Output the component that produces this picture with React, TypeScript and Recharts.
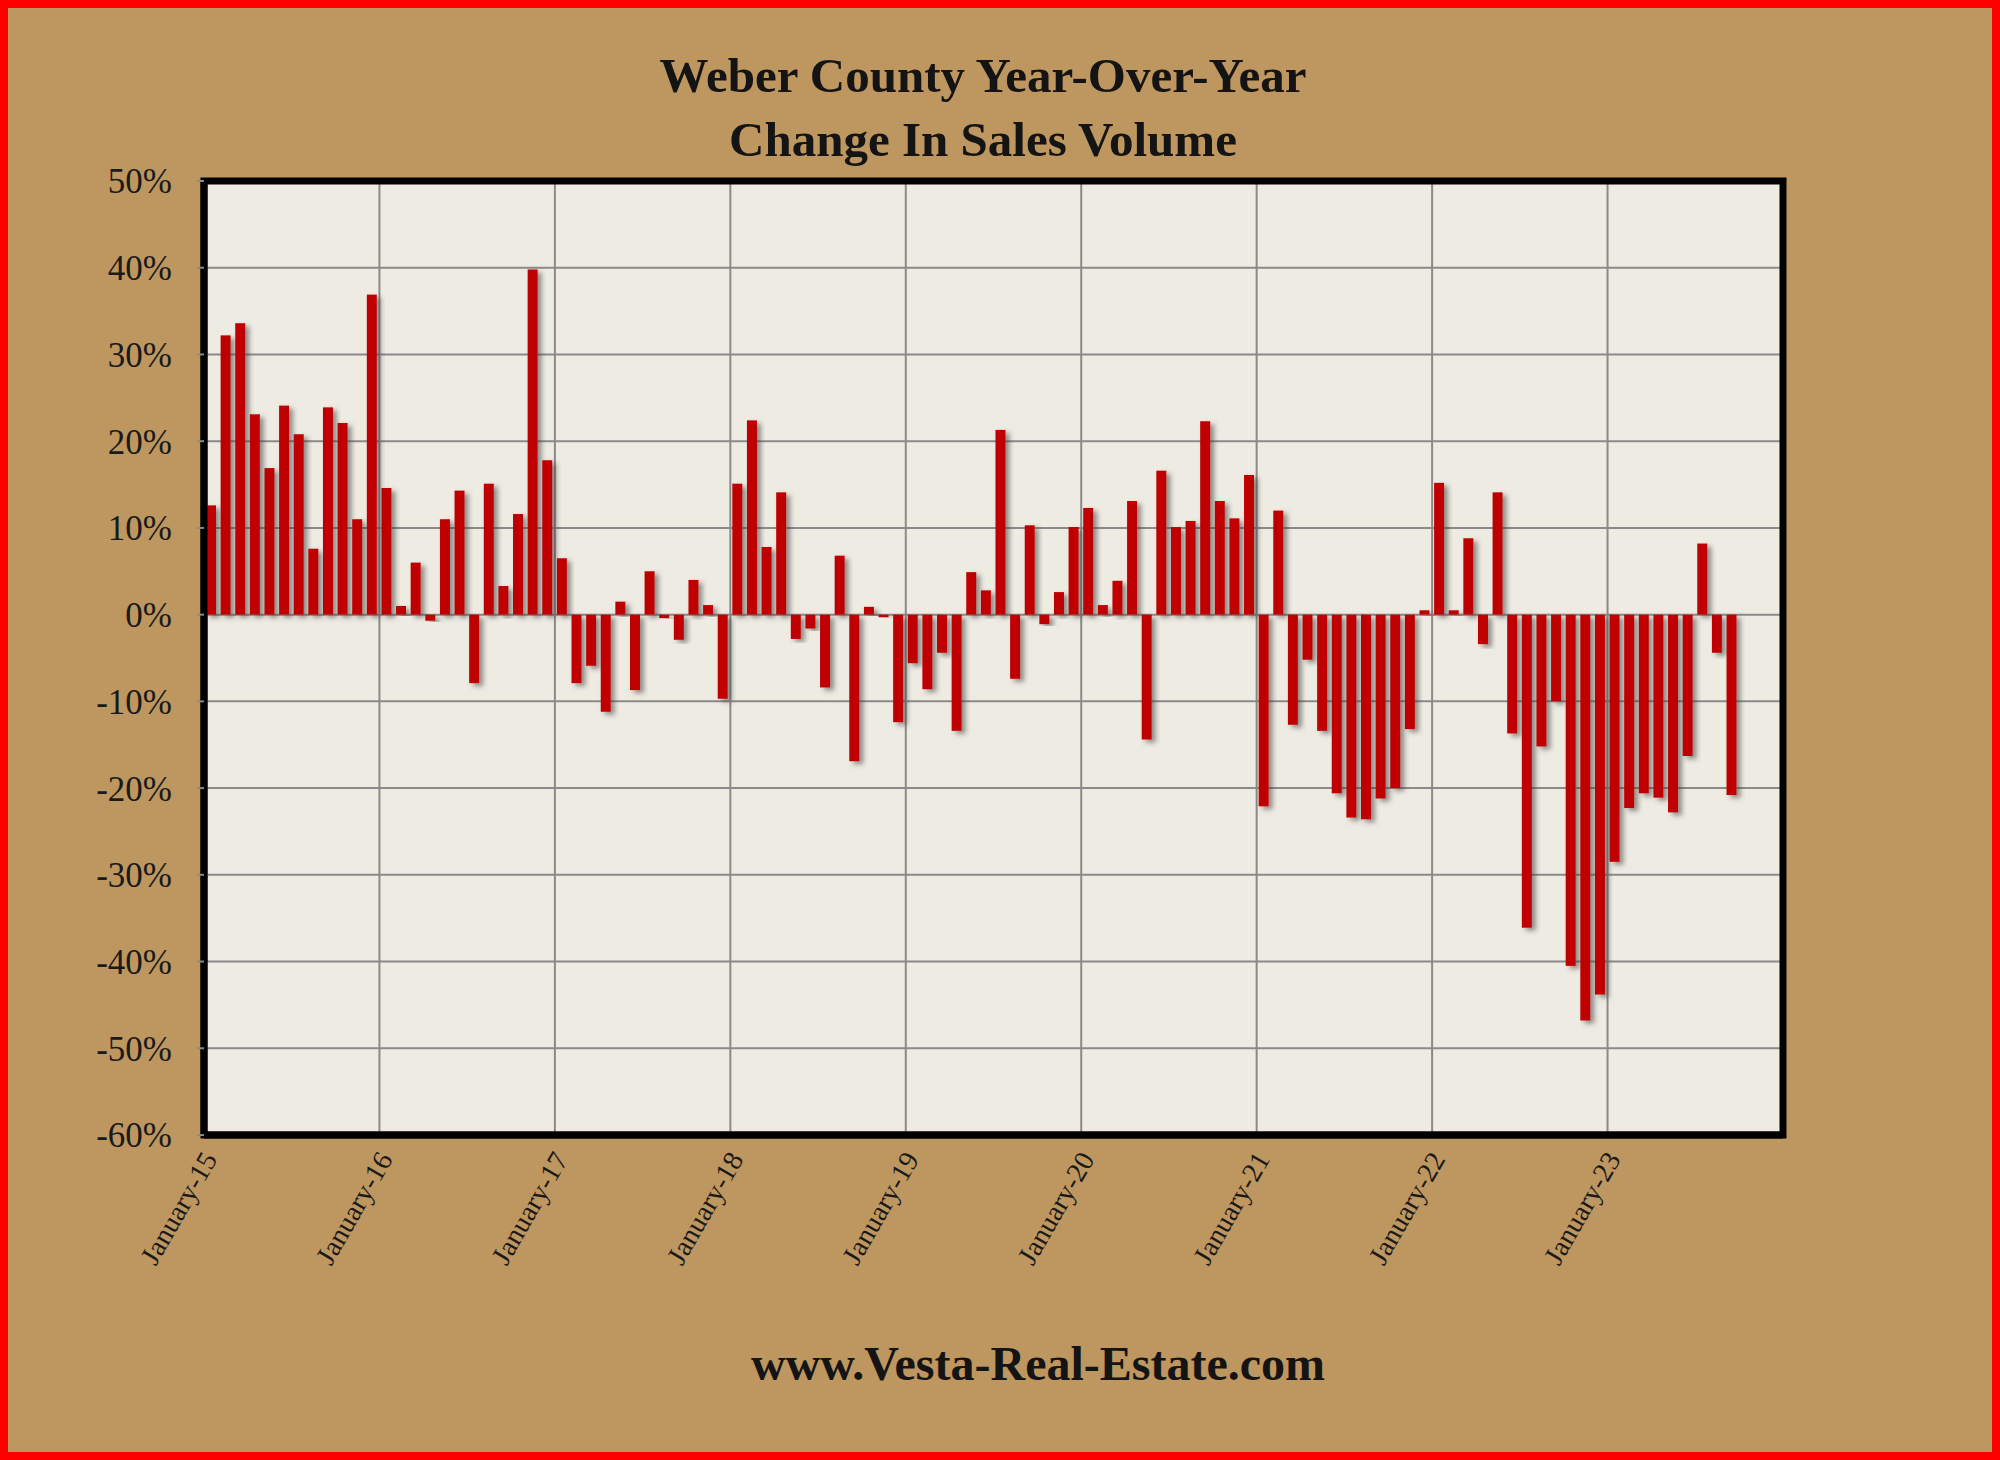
import React from 'react'
import { BarChart, Bar, XAxis, YAxis, CartesianGrid, ReferenceArea } from 'recharts'

// year-over-year change in sales volume, % (Jan-15 .. Sep-23)
const y2015 = [12.6, 32.2, 33.6, 23.1, 16.9, 24.1, 20.8, 7.6, 23.9, 22.1, 11.0, 36.9]
const y2016 = [14.6, 1.0, 6.0, -0.7, 11.0, 14.3, -7.9, 15.1, 3.3, 11.6, 39.8, 17.8]
const y2017 = [6.5, -7.9, -5.9, -11.2, 1.5, -8.7, 5.0, -0.4, -2.9, 4.0, 1.1, -9.7]
const y2018 = [15.1, 22.4, 7.8, 14.1, -2.8, -1.6, -8.4, 6.8, -16.9, 0.9, -0.3, -12.4]
const y2019 = [-5.6, -8.6, -4.4, -13.4, 4.9, 2.8, 21.3, -7.4, 10.3, -1.1, 2.6, 10.1]
const y2020 = [12.3, 1.1, 3.9, 13.1, -14.4, 16.6, 10.1, 10.8, 22.3, 13.1, 11.1, 16.1]
const y2021 = [-22.1, 12.0, -12.7, -5.2, -13.4, -20.6, -23.4, -23.6, -21.2, -20.0, -13.2, 0.5]
const y2022 = [15.2, 0.5, 8.8, -3.4, 14.1, -13.7, -36.1, -15.2, -10.0, -40.5, -46.8, -43.8]
const y2023 = [-28.5, -22.3, -20.6, -21.1, -22.8, -16.3, 8.2, -4.4, -20.8]

const xTickLabels = [
  'January-15', 'January-16', 'January-17', 'January-18', 'January-19',
  'January-20', 'January-21', 'January-22', 'January-23',
]
const yTicks = [-60, -50, -40, -30, -20, -10, 0, 10, 20, 30, 40, 50]

const TOTAL_MONTHS = 108

const values = [...y2015, ...y2016, ...y2017, ...y2018, ...y2019, ...y2020, ...y2021, ...y2022, ...y2023]
const data = values.map((v, i) => ({ m: i + 0.5, v }))
const xTicks = xTickLabels.map((_, i) => i * 12)

const FONT = '"Liberation Serif", "Times New Roman", serif'

const ShadowBar = (props: any) => {
  const { x, y, width, height, fill } = props
  if (x == null || y == null) return null
  const top = height < 0 ? y + height : y
  return (
    <rect
      x={x}
      y={top}
      width={width}
      height={Math.abs(height)}
      fill={fill}
      filter="url(#barShadow)"
    />
  )
}

const MonthTick = (props: any) => {
  const { x, y, payload } = props
  const label = xTickLabels[Math.round(payload.value / 12)]
  return (
    <text
      transform={`translate(${x + 14}, ${y + 16}) rotate(-60)`}
      textAnchor="end"
      fontSize={28}
      fontFamily={FONT}
      fill="#1a1a1a"
    >
      {label}
    </text>
  )
}

export default function App() {
  return (
    <div
      style={{
        position: 'absolute',
        left: 0,
        top: 0,
        width: 2000,
        height: 1460,
        background: '#BE965F',
        overflow: 'hidden',
      }}
    >
      <svg width={0} height={0} style={{ position: 'absolute' }}>
        <defs>
          <filter id="barShadow" x="-60%" y="-10%" width="240%" height="125%">
            <feDropShadow dx="4" dy="3" stdDeviation="2.5" floodColor="#3c3c3c" floodOpacity="0.55" />
          </filter>
        </defs>
      </svg>

      <div style={{ position: 'absolute', left: 0, top: 0 }}>
        <BarChart
          width={2000}
          height={1460}
          data={data}
          margin={{ top: 181, right: 217, bottom: 175, left: 84 }}
          style={{ fontFamily: FONT }}
        >
          <CartesianGrid stroke="#8a8a8a" strokeWidth={2} fill="#EEEBE2" fillOpacity={1} />
          <XAxis
            type="number"
            dataKey="m"
            domain={[0, TOTAL_MONTHS]}
            ticks={xTicks}
            interval={0}
            height={150}
            tickLine={false}
            axisLine={{ stroke: '#000', strokeWidth: 7 }}
            tick={<MonthTick />}
          />
          <YAxis
            domain={[-60, 50]}
            ticks={yTicks}
            interval={0}
            width={120}
            tickFormatter={(v: number) => `${v}%`}
            tick={{ fontSize: 35, fill: '#1a1a1a', fontFamily: FONT }}
            tickSize={7}
            tickMargin={25}
            tickLine={{ stroke: '#8a8a8a', strokeWidth: 2 }}
            axisLine={{ stroke: '#000', strokeWidth: 7 }}
          />
          <ReferenceArea
            x1={0}
            x2={TOTAL_MONTHS}
            y1={-60}
            y2={50}
            fill="none"
            fillOpacity={0}
            stroke="#000"
            strokeWidth={7}
            ifOverflow="visible"
          />
          <Bar
            dataKey="v"
            fill="#C00000"
            barSize={10}
            isAnimationActive={false}
            shape={<ShadowBar />}
          />
        </BarChart>
      </div>

      <div
        style={{
          position: 'absolute',
          left: 0,
          top: 44,
          width: 1966,
          textAlign: 'center',
          fontFamily: FONT,
          fontWeight: 'bold',
          fontSize: 49,
          lineHeight: '64px',
          color: '#141414',
        }}
      >
        Weber County Year-Over-Year
        <br />
        Change In Sales Volume
      </div>

      <div
        style={{
          position: 'absolute',
          left: 0,
          top: 1335,
          width: 2076,
          textAlign: 'center',
          fontFamily: FONT,
          fontWeight: 'bold',
          fontSize: 48,
          lineHeight: '58px',
          color: '#141414',
        }}
      >
        www.Vesta-Real-Estate.com
      </div>

      <div
        style={{
          position: 'absolute',
          inset: 0,
          border: '8px solid #FF0000',
          boxSizing: 'border-box',
          pointerEvents: 'none',
        }}
      />
    </div>
  )
}
